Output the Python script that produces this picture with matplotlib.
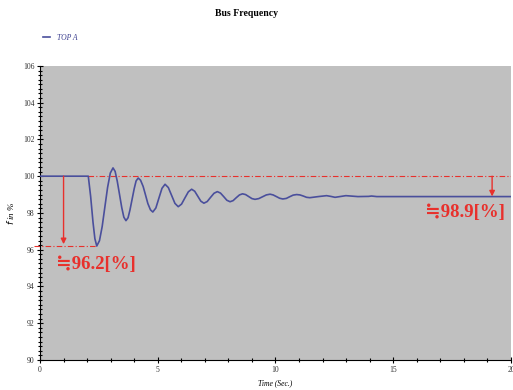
import matplotlib
matplotlib.use("Agg")
from matplotlib import pyplot as plt
from matplotlib.ticker import MultipleLocator

# time (s) and bus frequency (%)
t = [0.0, 2.05, 2.15, 2.25, 2.33, 2.41,
     2.525, 2.64, 2.755, 2.87, 2.985, 3.10,
     3.19, 3.28, 3.375, 3.47, 3.56, 3.65,
     3.74, 3.82, 3.91, 4.00, 4.08, 4.17,
     4.27, 4.38, 4.48, 4.58, 4.69, 4.79,
     4.92, 5.05, 5.18, 5.31,
     5.45, 5.59, 5.73, 5.87,
     6.01, 6.155, 6.30, 6.44,
     6.57, 6.70, 6.83, 6.96,
     7.10, 7.245, 7.39, 7.53,
     7.665, 7.80, 7.935, 8.07,
     8.20, 8.335, 8.47, 8.60,
     8.73, 8.865, 9.00, 9.13,
     9.29, 9.45, 9.61, 9.77,
     9.90, 10.04, 10.175, 10.31,
     10.46, 10.60, 10.75, 10.90,
     11.04, 11.18, 11.32, 11.46,
     11.82, 12.17, 12.35, 12.53,
     12.99, 13.50, 13.95, 14.08, 14.30, 20.0]
f = [100.0, 100.0, 98.9, 97.5, 96.6, 96.2,
     96.49, 97.26, 98.33, 99.39, 100.17, 100.45,
     100.26, 99.73, 99.02, 98.30, 97.77, 97.58,
     97.74, 98.16, 98.74, 99.32, 99.74, 99.90,
     99.78, 99.44, 98.98, 98.51, 98.17, 98.05,
     98.27, 98.81, 99.34, 99.56,
     99.38, 98.95, 98.52, 98.34,
     98.48, 98.82, 99.15, 99.29,
     99.18, 98.91, 98.64, 98.53,
     98.62, 98.85, 99.07, 99.16,
     99.08, 98.89, 98.69, 98.61,
     98.67, 98.83, 98.98, 99.04,
     99.00, 98.89, 98.78, 98.74,
     98.78, 98.88, 98.98, 99.02,
     98.98, 98.89, 98.80, 98.76,
     98.79, 98.88, 98.97, 99.00,
     98.98, 98.92, 98.85, 98.83,
     98.89, 98.94, 98.90, 98.85,
     98.94, 98.89, 98.90, 98.92, 98.89, 98.89]

f_nominal = 100.0
f_min = 96.2
f_final = 98.9
t_dip = 2.41
t_arrow1 = 1.0
t_arrow2 = 19.2

blue = "#4a4f9c"
red = "#e8302c"

fig = plt.figure(figsize=(5.13, 3.90), dpi=100)
ax = fig.add_axes([0.078, 0.077, 0.918, 0.754])
ax.set_facecolor("#c0c0c0")

ax.plot(t, f, color=blue, lw=1.2, label="TOP A", zorder=3)

# reference lines
ax.plot([t[1], 20], [f_nominal, f_nominal], color=red, lw=0.8,
        ls=(0, (5, 2, 1, 2)), zorder=2)
ax.plot([-0.25, t_dip], [f_min, f_min], color=red, lw=0.8,
        ls=(0, (5, 2, 1, 2)), zorder=2, clip_on=False)

# arrows
ax.annotate("", xy=(t_arrow1, f_min + 0.1), xytext=(t_arrow1, f_nominal),
            arrowprops=dict(arrowstyle="-|>", color=red, lw=1.0,
                            mutation_scale=8, shrinkA=0, shrinkB=0))
ax.annotate("", xy=(t_arrow2, f_final), xytext=(t_arrow2, f_nominal),
            arrowprops=dict(arrowstyle="-|>", color=red, lw=1.0,
                            mutation_scale=8, shrinkA=0, shrinkB=0))

fam = ["Liberation Serif", "DejaVu Serif", "DejaVu Sans"]
ax.text(0.7, 95.17, "≒96.2[%]", color=red, fontsize=13.5, fontweight="bold",
        family=fam, ha="left", va="center")
ax.text(19.75, 98.0, "≒98.9[%]", color=red, fontsize=13.5, fontweight="bold",
        family=fam, ha="right", va="center")

ax.set_xlim(0, 20)
ax.set_ylim(90, 106)
ax.xaxis.set_major_locator(MultipleLocator(5))
ax.xaxis.set_minor_locator(MultipleLocator(1))
ax.yaxis.set_major_locator(MultipleLocator(2))
ax.yaxis.set_minor_locator(MultipleLocator(0.25))
ax.tick_params(which="major", direction="inout", length=5, width=0.8,
               labelsize=5.5, labelcolor="#333333", pad=1.5)
ax.tick_params(which="minor", direction="inout", length=3, width=0.8)
for lab in ax.get_xticklabels() + ax.get_yticklabels():
    lab.set_family("Liberation Serif")
for s in ["top", "right"]:
    ax.spines[s].set_visible(False)
ax.spines["left"].set_linewidth(0.8)
ax.spines["bottom"].set_linewidth(0.8)

ax.set_xlabel("Time (Sec.)", fontsize=5.5, style="italic",
              family="Liberation Serif", labelpad=4)
ax.set_ylabel(r"$f$ in %", fontsize=6.5, style="italic",
              family="Liberation Serif", labelpad=5)

fig.text(0.48, 0.965, "Bus Frequency", fontsize=7, fontweight="bold",
         family="Liberation Serif", ha="center", va="center")
leg = ax.legend(loc="center left", bbox_to_anchor=(0.07, 0.903),
                bbox_transform=fig.transFigure, frameon=False,
                handlelength=1.0, handletextpad=0.8,
                prop={"family": "Liberation Serif", "style": "italic",
                      "size": 5.5})
for txt in leg.get_texts():
    txt.set_color("#3c3f8f")

fig.savefig("out.png", dpi=100)
